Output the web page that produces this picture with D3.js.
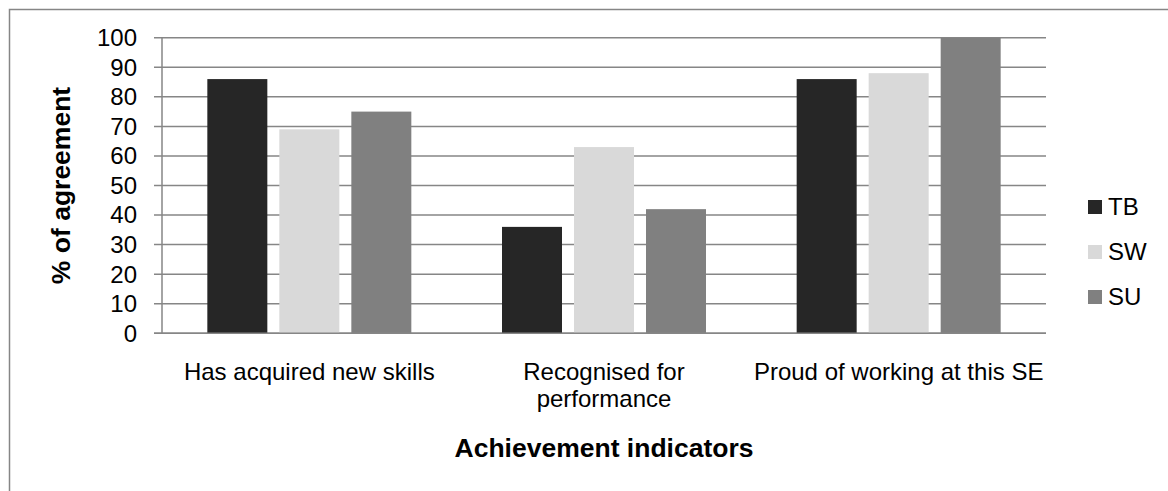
<!DOCTYPE html>
<html>
<head>
<meta charset="utf-8">
<script src="https://cdn.jsdelivr.net/npm/d3@7"></script>
<style>
  html, body { margin: 0; padding: 0; background: #fff; }
  svg { display: block; }
  text { font-family: "Liberation Sans", Arial, sans-serif; fill: #000; }
</style>
</head>
<body>
<svg id="chart" width="1168" height="491"></svg>
<script>
const categories = ["Has acquired new skills", "Recognised for performance", "Proud of working at this SE"];
const categoryLines = [["Has acquired new skills"], ["Recognised for", "performance"], ["Proud of working at this SE"]];
const seriesNames = ["TB", "SW", "SU"];
const TB = [86, 36, 86];
const SW = [69, 63, 88];
const SU = [75, 42, 100];
const yTicks = [0, 10, 20, 30, 40, 50, 60, 70, 80, 90, 100];
const colors = ["#262626", "#d9d9d9", "#808080"];
const yTitle = "% of agreement";
const xTitle = "Achievement indicators";

const series = [TB, SW, SU];
const svg = d3.select("#chart");

// outer border (only top/left visible in frame)
svg.append("rect").attr("x", 9.5).attr("y", 9.5).attr("width", 1400).attr("height", 800)
  .attr("fill", "none").attr("stroke", "#868686").attr("stroke-width", 1.5);

const plot = { left: 162, right: 1046, top: 37.7, bottom: 333.3 };

const x0 = d3.scaleBand().domain(categories).range([plot.left, plot.right]).paddingInner(0).paddingOuter(0);
const y = d3.scaleLinear().domain([0, 100]).range([plot.bottom, plot.top]);

// bar layout within a band: 3 bars of 60, gap 12
const groupWidth = 204;
const x1 = d3.scaleBand().domain(seriesNames).range([0, groupWidth]).paddingInner(12 / 72).paddingOuter(0);

// gridlines
svg.append("g").selectAll("line").data(yTicks).join("line")
  .attr("x1", plot.left - 8).attr("x2", plot.right)
  .attr("y1", d => y(d)).attr("y2", d => y(d))
  .attr("stroke", "#868686").attr("stroke-width", 1.5);

// vertical axis line
svg.append("line").attr("x1", plot.left).attr("x2", plot.left)
  .attr("y1", plot.top).attr("y2", plot.bottom)
  .attr("stroke", "#868686").attr("stroke-width", 1.5);

// bars
const groups = svg.append("g").selectAll("g").data(categories).join("g")
  .attr("transform", c => `translate(${x0(c) + (x0.bandwidth() - groupWidth) / 2},0)`);
groups.selectAll("rect").data((c, i) => seriesNames.map((s, j) => ({ s, v: series[j][i], j })))
  .join("rect")
  .attr("x", d => x1(d.s)).attr("width", x1.bandwidth())
  .attr("y", d => y(d.v)).attr("height", d => y(0) - y(d.v))
  .attr("fill", d => colors[d.j]);

// baseline axis drawn over bars
svg.append("line").attr("x1", plot.left - 8).attr("x2", plot.right)
  .attr("y1", y(0)).attr("y2", y(0))
  .attr("stroke", "#868686").attr("stroke-width", 1.5);

// y tick labels
svg.append("g").selectAll("text").data(yTicks).join("text")
  .attr("x", 137).attr("y", d => y(d)).attr("dy", "0.35em")
  .attr("text-anchor", "end").attr("font-size", 24).text(d => d);

// category labels
const cl = svg.append("g").selectAll("text").data(categories).join("text")
  .attr("x", c => x0(c) + x0.bandwidth() / 2).attr("y", 380)
  .attr("text-anchor", "middle").attr("font-size", 24);
cl.selectAll("tspan").data((c, i) => categoryLines[i]).join("tspan")
  .attr("x", function () { return d3.select(this.parentNode).attr("x"); })
  .attr("dy", (d, k) => k === 0 ? 0 : 26.5)
  .text(d => d);

// axis titles
svg.append("text").attr("x", (plot.left + plot.right) / 2).attr("y", 457)
  .attr("text-anchor", "middle").attr("font-size", 26.5).attr("font-weight", "bold").text(xTitle);
svg.append("text").attr("transform", `translate(69.5,${(plot.top + plot.bottom) / 2}) rotate(-90)`)
  .attr("text-anchor", "middle").attr("font-size", 26.5).attr("font-weight", "bold").text(yTitle);

// legend
const lg = svg.append("g").selectAll("g").data(seriesNames).join("g")
  .attr("transform", (d, i) => `translate(1088,${207 + i * 45})`);
lg.append("rect").attr("x", 0).attr("y", -7).attr("width", 14).attr("height", 14)
  .attr("fill", (d, i) => colors[i]);
lg.append("text").attr("x", 20).attr("y", 0).attr("dy", "0.35em").attr("font-size", 24).text(d => d);
</script>
</body>
</html>
